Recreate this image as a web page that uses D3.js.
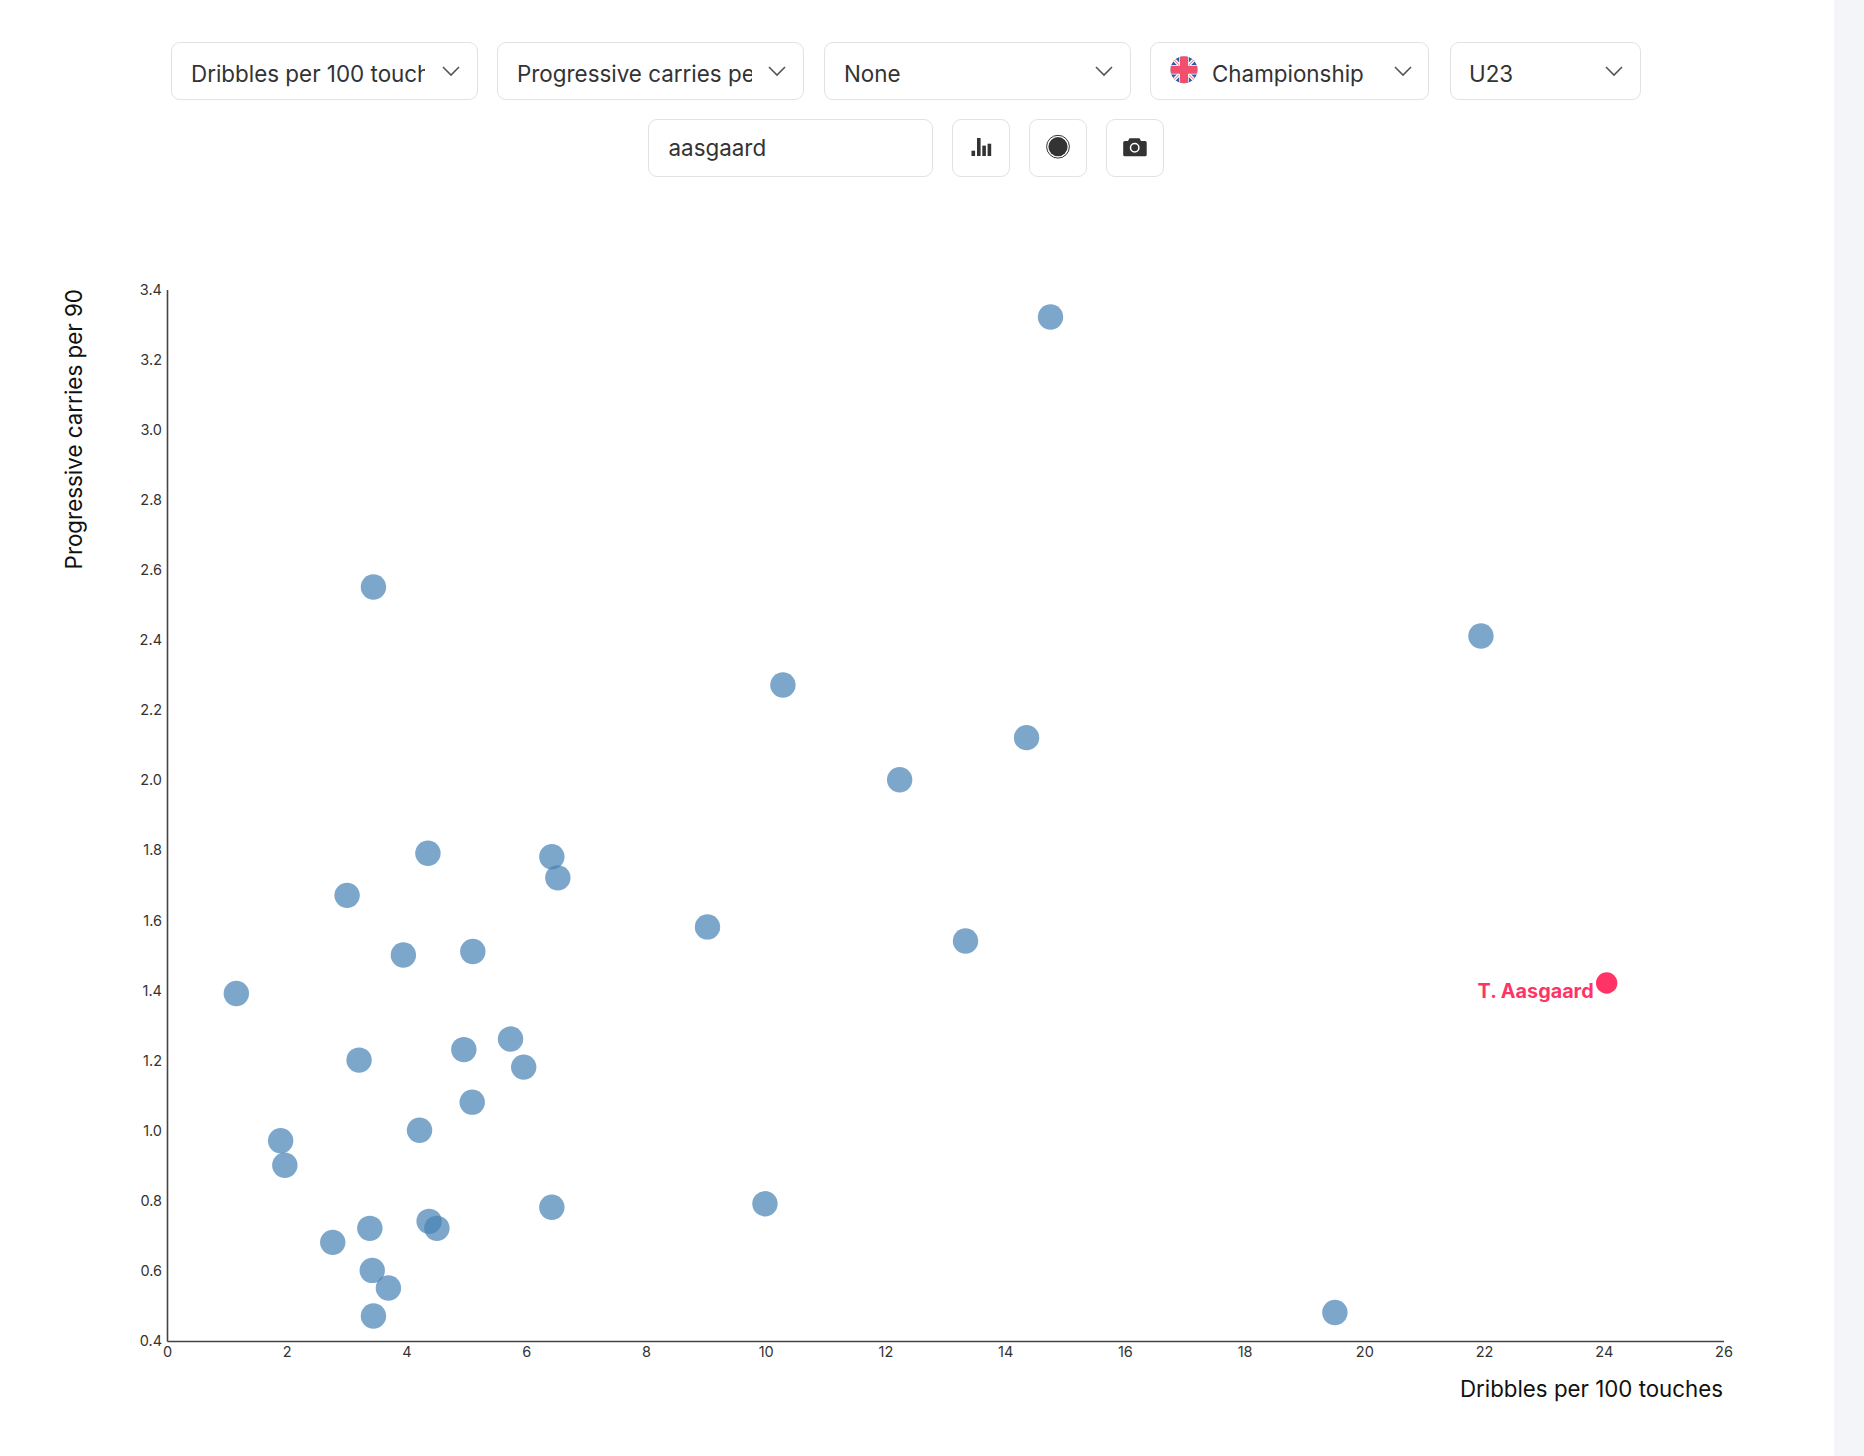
<!DOCTYPE html>
<html>
<head>
<meta charset="utf-8">
<script src="https://cdn.jsdelivr.net/npm/d3@7"></script>
<style>
  html, body { margin: 0; padding: 0; background: #fff; overflow: hidden; }
  body { width: 1864px; height: 1456px; position: relative; font-family: Inter, sans-serif; }
  #strip { position: absolute; left: 1834px; top: 0; width: 30px; height: 1456px; background: #f3f5f9; }
  .box { position: absolute; box-sizing: border-box; border: 1px solid #e2e2e2; border-radius: 9px; background: #fff; }
  .label { position: absolute; top: 0; overflow: hidden; white-space: nowrap; color: #333; font-size: 22.4px; line-height: 57px; }
  #chart { position: absolute; left: 0; top: 0; }
</style>
</head>
<body>
<div id="strip"></div>
<div id="controls"></div>
<svg id="chart" width="1834" height="1456"></svg>
<script>
// values
var dribbles = [14.75, 21.94, 3.44, 10.28, 14.35, 12.23, 4.35, 6.42, 6.52, 3.0, 9.02, 13.33, 3.94, 5.10, 1.15, 5.73, 4.95, 3.2, 5.95, 5.09, 4.21, 1.89, 1.96, 9.98, 6.42, 4.37, 4.5, 3.38, 2.76, 3.42, 3.69, 3.44, 19.5]
var carries = [3.32, 2.41, 2.55, 2.27, 2.12, 2.00, 1.79, 1.78, 1.72, 1.67, 1.58, 1.54, 1.50, 1.51, 1.39, 1.26, 1.23, 1.20, 1.18, 1.08, 1.00, 0.97, 0.90, 0.79, 0.78, 0.74, 0.72, 0.72, 0.68, 0.60, 0.55, 0.47, 0.48]
var highlightName = "T. Aasgaard"
var highlightX = 24.04
var highlightY = 1.42
var xTicks = [0, 2, 4, 6, 8, 10, 12, 14, 16, 18, 20, 22, 24, 26]
var yTicks = [0.4, 0.6, 0.8, 1.0, 1.2, 1.4, 1.6, 1.8, 2.0, 2.2, 2.4, 2.6, 2.8, 3.0, 3.2, 3.4]
var xTitle = "Dribbles per 100 touches"
var yTitle = "Progressive carries per 90"
var dropdowns = ["Dribbles per 100 touches", "Progressive carries per 90", "None", "Championship", "U23"]
var searchText = "aasgaard"

// controls above the chart
var controls = d3.select("#controls")
var selectBoxes = [
  {left: 171, width: 307, text: 191, textWidth: 234},
  {left: 497, width: 307, text: 517, textWidth: 235},
  {left: 824, width: 307, text: 844, textWidth: 235},
  {left: 1150, width: 279, text: 1212, textWidth: 170},
  {left: 1449.5, width: 191, text: 1469, textWidth: 110}
]
selectBoxes.forEach(function(b, i) {
  controls.append("div").attr("class", "box")
    .style("left", b.left + "px").style("top", "42px")
    .style("width", b.width + "px").style("height", "58px")
  controls.append("div").attr("class", "label")
    .style("left", b.text + "px").style("top", "45px")
    .style("width", b.textWidth + "px")
    .text(dropdowns[i])
})
controls.append("div").attr("class", "box")
  .style("left", "648px").style("top", "119px")
  .style("width", "285px").style("height", "58px")
controls.append("div").attr("class", "label")
  .style("left", "668.5px").style("top", "119px")
  .text(searchText)
;[952, 1029, 1106].forEach(function(left) {
  controls.append("div").attr("class", "box")
    .style("left", left + "px").style("top", "119px")
    .style("width", "58px").style("height", "58px")
})

var svg = d3.select("#chart")

// chevrons on the dropdowns
var chevrons = [451, 777, 1104, 1403, 1614]
svg.append("g").selectAll("path")
  .data(chevrons)
  .enter().append("path")
    .attr("d", function(d) { return "M" + (d - 8) + ",67 L" + d + ",75 L" + (d + 8) + ",67" })
    .attr("fill", "none")
    .attr("stroke", "#555")
    .attr("stroke-width", 1.6)

// union jack flag
var flag = svg.append("g").attr("transform", "translate(1184,69.7)")
flag.append("clipPath").attr("id", "flagClip").append("circle").attr("r", 13.5)
var flagG = flag.append("g").attr("clip-path", "url(#flagClip)")
flagG.append("rect").attr("x", -14).attr("y", -14).attr("width", 28).attr("height", 28).attr("fill", "#2f5aa5")
flagG.append("path").attr("d", "M-14,-14L14,14M14,-14L-14,14").attr("stroke", "#fff").attr("stroke-width", 3.5)
flagG.append("path").attr("d", "M-14,-14L14,14M14,-14L-14,14").attr("stroke", "#f0506e").attr("stroke-width", 1)
flagG.append("path").attr("d", "M0,-14V14M-14,0H14").attr("stroke", "#fff").attr("stroke-width", 9.5)
flagG.append("path").attr("d", "M0,-14V14M-14,0H14").attr("stroke", "#f0506e").attr("stroke-width", 8)

// button icons
var iconColor = "#333"
var bars = [[971.5, 150.7, 5.3], [977, 138, 18], [982.3, 145.6, 10.4], [987.6, 143.7, 12.3]]
svg.append("g").selectAll("rect")
  .data(bars)
  .enter().append("rect")
    .attr("x", function(d) { return d[0] })
    .attr("y", function(d) { return d[1] })
    .attr("width", 3.6)
    .attr("height", function(d) { return d[2] })
    .attr("fill", iconColor)
svg.append("circle").attr("cx", 1058).attr("cy", 146.7).attr("r", 9.6).attr("fill", iconColor)
svg.append("circle").attr("cx", 1058).attr("cy", 146.7).attr("r", 11.4).attr("fill", "none").attr("stroke", iconColor).attr("stroke-width", 1)
svg.append("path")
  .attr("d", "M1128,141 l1.5,-2.7 h10 l1.5,2.7 h4.2 a1.5,1.5 0 0 1 1.5,1.5 v12.3 a1.5,1.5 0 0 1 -1.5,1.5 h-20.5 a1.5,1.5 0 0 1 -1.5,-1.5 v-12.3 a1.5,1.5 0 0 1 1.5,-1.5 z")
  .attr("fill", iconColor)
svg.append("circle").attr("cx", 1134.7).attr("cy", 147.7).attr("r", 4.2).attr("fill", "none").attr("stroke", "#fff").attr("stroke-width", 1.5)

// scales
var x = d3.scaleLinear().domain([0, 26]).range([167, 1723.5])
var y = d3.scaleLinear().domain([0.4, 3.4]).range([1341, 289.5])

// axes
var xAxis = svg.append("g")
  .attr("transform", "translate(0,1341)")
  .call(d3.axisBottom(x).tickValues(xTicks).tickSize(0).tickPadding(6).tickFormat(d3.format("d")))
var yAxis = svg.append("g")
  .attr("transform", "translate(167,0)")
  .call(d3.axisLeft(y).tickValues(yTicks).tickSize(0).tickPadding(5).tickFormat(d3.format(".1f")))
svg.selectAll(".domain").attr("stroke", "#444").attr("stroke-width", 1.6)
xAxis.selectAll("text").style("font-family", "Inter, sans-serif").style("font-size", "14.5px").attr("fill", "#333")
yAxis.selectAll("text").style("font-family", "Inter, sans-serif").style("font-size", "14.5px").attr("fill", "#333")

// axis titles
svg.append("text")
  .attr("x", 1723).attr("y", 1397)
  .attr("text-anchor", "end")
  .style("font-family", "Inter, sans-serif")
  .style("font-size", "22.3px")
  .attr("fill", "#111")
  .text(xTitle)
svg.append("text")
  .attr("transform", "translate(82,289) rotate(-90)")
  .attr("text-anchor", "end")
  .style("font-family", "Inter, sans-serif")
  .style("font-size", "22.4px")
  .attr("fill", "#111")
  .text(yTitle)

// points
var points = svg.append("g").attr("transform", "translate(0.5,-0.5)")
points.selectAll("circle")
  .data(d3.zip(dribbles, carries))
  .enter().append("circle")
    .attr("cx", function(d) { return x(d[0]) })
    .attr("cy", function(d) { return y(d[1]) })
    .attr("r", 12.7)
    .attr("fill", "steelblue")
    .attr("opacity", 0.7)

points.append("circle")
  .attr("cx", x(highlightX))
  .attr("cy", y(highlightY))
  .attr("r", 10.7)
  .attr("fill", "#ff3366")
points.append("text")
  .attr("x", x(highlightX) - 13)
  .attr("y", y(highlightY) + 15)
  .attr("text-anchor", "end")
  .style("font-family", "Inter, sans-serif")
  .style("font-size", "19.8px")
  .style("font-weight", "700")
  .attr("fill", "#ff3366")
  .text(highlightName)
</script>
</body>
</html>
